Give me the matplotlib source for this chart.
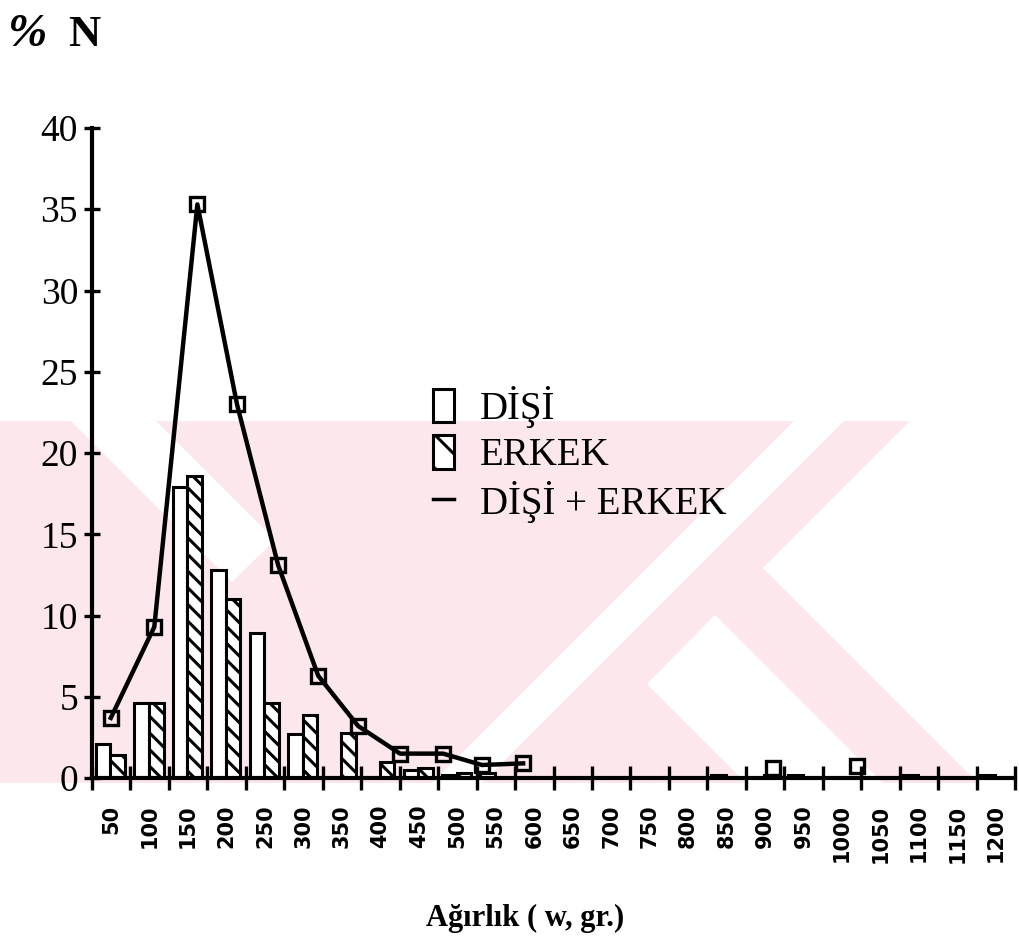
import matplotlib
matplotlib.use("Agg")
import matplotlib.pyplot as plt
from matplotlib.patches import Patch, Polygon
from matplotlib.lines import Line2D
import numpy as np

# weight classes (upper limits, g)
classes = [50, 100, 150, 200, 250, 300, 350, 400, 450, 500, 550, 600,
           650, 700, 750, 800, 850, 900, 950, 1000, 1050, 1100, 1150, 1200]

# % frequency per class
disi = [2.1, 4.6, 17.9, 12.8, 8.9, 2.7, 0.0, 0.0, 0.5, 0.2, 0.3, 0.0,
        0.0, 0.0, 0.0, 0.0, 0.2, 0.0, 0.2, 0.0, 0.0, 0.2, 0.0, 0.2]
erkek = [1.4, 4.6, 18.6, 11.0, 4.6, 3.9, 2.8, 1.0, 0.6, 0.3, 0.0, 0.0,
         0.0, 0.0, 0.0, 0.0, 0.0, 0.2, 0.0, 0.0, 0.0, 0.0, 0.0, 0.0]

# total curve (position in class units as drawn, %)
toplam_x = [0.49, 1.62, 2.74, 3.77, 4.84, 5.88, 6.92, 8.01, 9.13, 10.14, 11.21]
toplam_y = [3.7, 9.3, 35.3, 23.0, 13.1, 6.3, 3.2, 1.5, 1.5, 0.8, 0.9]
tek_x = [17.71, 19.88]
tek_y = [0.6, 0.75]

plt.rcParams['hatch.linewidth'] = 2.2
serif = ['Liberation Serif', 'DejaVu Serif']

fig = plt.figure(figsize=(10.19, 9.44), dpi=100)

# background watermark (pink stripes)
bg = fig.add_axes([0, 0, 1, 1], zorder=0)
bg.set_xlim(0, 1019)
bg.set_ylim(944, 0)
bg.axis('off')
pink = '#fce8ec'
bg.add_patch(Polygon([(0, 421), (910, 421), (763, 568), (978, 783), (0, 783)],
                     closed=True, fc=pink, ec='none'))
for poly in ([(71, 421), (156, 421), (275, 540), (232, 582)],
             [(794, 421), (844, 421), (482, 783), (432, 783)],
             [(715, 615), (883, 783), (746, 783), (647, 684)]):
    bg.add_patch(Polygon(poly, closed=True, fc='white', ec='none'))

ax = fig.add_axes([92 / 1019, 1 - 778 / 944, (1015 - 92) / 1019, (778 - 128) / 944], zorder=1)
ax.patch.set_alpha(0)

idx = np.arange(len(classes))
w = 0.38
ax.bar(idx + 0.1, disi, width=w, align='edge', facecolor='white',
       edgecolor='black', linewidth=2.2, zorder=2)
ax.bar(idx + 0.1 + w, erkek, width=w, align='edge', facecolor='white',
       edgecolor='black', linewidth=2.2, hatch='\\\\', zorder=2)

ax.plot(toplam_x, toplam_y, color='black', lw=3.2, marker='s', ms=10,
        mfc='none', mec='black', mew=2.4, zorder=3, clip_on=False)
ax.plot(tek_x, tek_y, ls='none', marker='s', ms=10, mfc='none',
        mec='black', mew=2.4, zorder=3)

ax.set_xlim(0, 24)
ax.set_ylim(0, 40)
for s in ['top', 'right']:
    ax.spines[s].set_visible(False)
for s in ['left', 'bottom']:
    ax.spines[s].set_linewidth(3)

ax.set_xticks(np.arange(0, 25))
ax.set_xticklabels([])
ax.set_xticks(idx + 0.5, minor=True)
ax.set_xticklabels([str(c) for c in classes], minor=True, rotation=90,
                   fontsize=15, fontweight='bold', family='DejaVu Sans')
ax.tick_params(axis='x', which='major', direction='inout', length=17, width=2.4)
ax.tick_params(axis='x', which='minor', length=0, pad=19)

ax.set_yticks(np.arange(0, 41, 5))
ax.set_yticklabels([str(v) for v in range(0, 41, 5)], fontsize=27, family=serif)
ax.tick_params(axis='y', direction='inout', length=12, width=2.4, pad=4)

handles = [Patch(facecolor='white', edgecolor='black', linewidth=2.2),
           Patch(facecolor='white', edgecolor='black', linewidth=2.2, hatch='\\'),
           Line2D([0], [0], color='black', lw=2.5)]
labels = ['DİŞİ', 'ERKEK', 'DİŞİ + ERKEK']
leg = ax.legend(handles, labels, loc='upper left', bbox_to_anchor=(433 / 1019, 1 - 386 / 944),
                bbox_transform=fig.transFigure, frameon=False,
                prop={'family': serif, 'size': 28}, handlelength=0.55,
                handleheight=0.95, handletextpad=0.65, labelspacing=0.18,
                borderpad=0, borderaxespad=0)

fig.text(8 / 1019, 1 - 46 / 944, '%', fontsize=34, fontweight='bold',
         fontstyle='italic', family=serif, va='baseline')
fig.text(68 / 1019, 1 - 46 / 944, 'N', fontsize=32, fontweight='bold',
         family=serif, va='baseline')
fig.text(525 / 1019, 1 - 926 / 944, 'Ağırlık ( w, gr.)', fontsize=22,
         fontweight='bold', family=serif, ha='center', va='baseline')

fig.savefig('out.png', dpi=100)
